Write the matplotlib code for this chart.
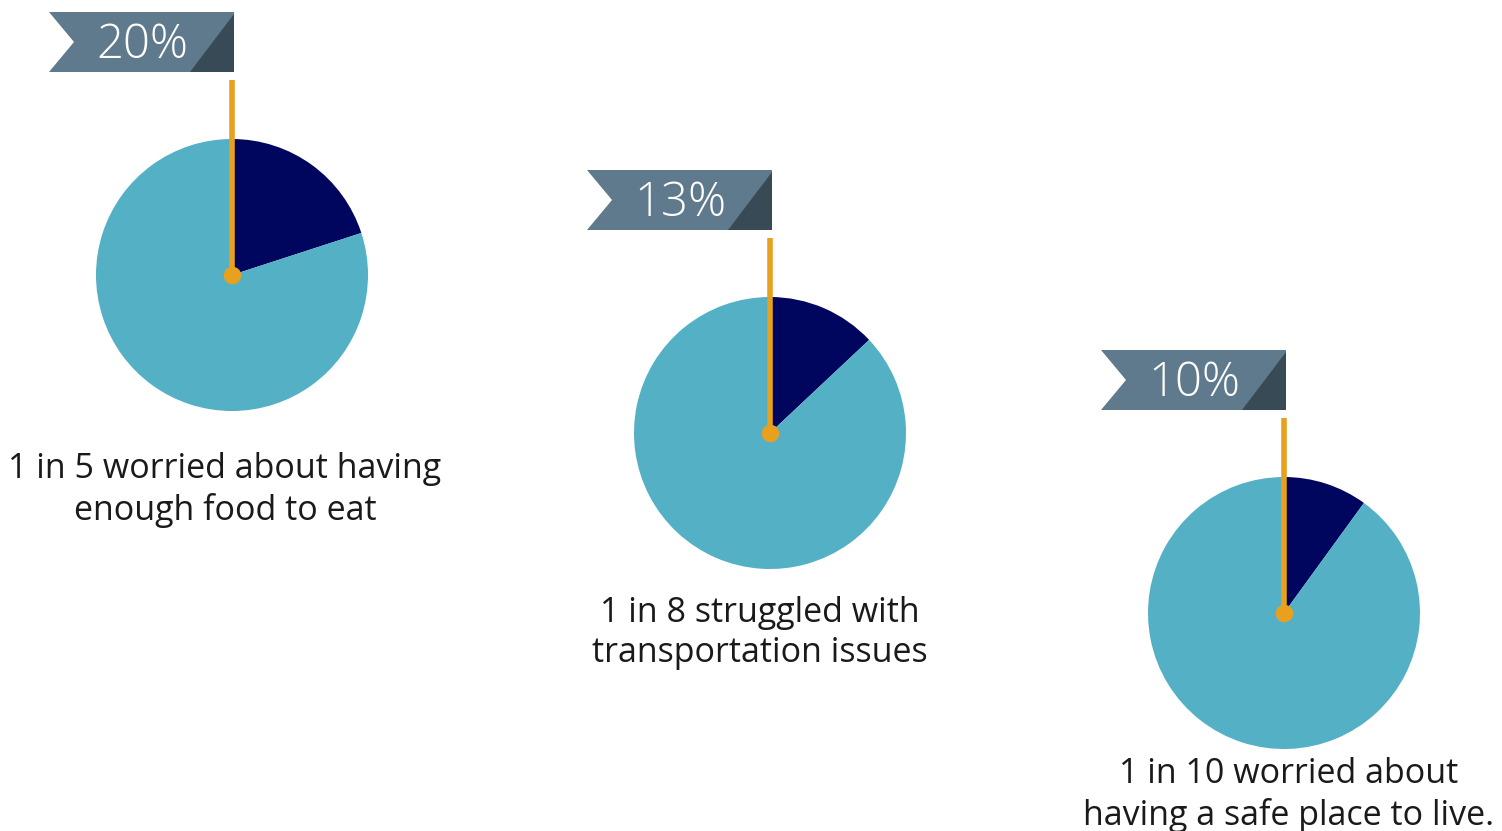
import matplotlib
matplotlib.use("Agg")
import matplotlib.pyplot as plt
from matplotlib.patches import Polygon

W, H = 1502, 831
percents = [20, 13, 10]
pct_labels = ["20%", "13%", "10%"]
captions = ["1 in 5 worried about having\nenough food to eat",
            "1 in 8 struggled with\ntransportation issues",
            "1 in 10 worried about\nhaving a safe place to live."]

# layout (pixel positions, y measured from top)
centers = [(232, 275), (770, 433), (1284, 613)]
radius = 136
banner_left = [49, 587, 1101]
banner_top = [12, 170, 350]
caption_pos = [(225, 490), (760, 633), (1289, 795)]

light = "#54b0c4"
dark = "#00065e"
orange = "#e8a11e"
ban = "#5f7a8c"
ban_dark = "#394a57"

fig = plt.figure(figsize=(W / 100, H / 100), dpi=100)
ax = fig.add_axes([0, 0, 1, 1])
ax.set_xlim(0, W)
ax.set_ylim(0, H)
ax.axis("off")

def Y(y):
    return H - y

for i, p in enumerate(percents):
    cx, cy = centers[i]
    ax.pie([p, 100 - p], colors=[dark, light], startangle=90, counterclock=False,
           center=(cx, Y(cy)), radius=radius, frame=True,
           wedgeprops=dict(linewidth=0))
    # banner
    bl, bt = banner_left[i], banner_top[i]
    bw, bh = 185, 60
    poly = [(bl, Y(bt)), (bl + bw, Y(bt)), (bl + bw, Y(bt + bh)), (bl, Y(bt + bh)),
            (bl + 25, Y(bt + bh / 2))]
    ax.add_patch(Polygon(poly, closed=True, facecolor=ban, edgecolor="none", zorder=5))
    tri = [(bl + bw - 44, Y(bt + bh)), (bl + bw, Y(bt + 2)), (bl + bw, Y(bt + bh))]
    ax.add_patch(Polygon(tri, closed=True, facecolor=ban_dark, edgecolor="none", zorder=6))
    ax.text(bl + 93, Y(bt + bh / 2 + 4), pct_labels[i], color="white", fontsize=34,
            family="Open Sans", fontweight="light", ha="center", va="center", zorder=7)
    # orange line
    ax.plot([cx, cx], [Y(bt + 68), Y(cy)], color=orange, linewidth=4, solid_capstyle="butt", zorder=8)
    ax.scatter([cx], [Y(cy)], s=160, color=orange, zorder=9, linewidths=0)
    # caption
    tx, ty = caption_pos[i]
    ax.text(tx, Y(ty), captions[i], fontsize=24.5, family="Open Sans", color="#1a1a1a",
            ha="center", va="center", linespacing=1.25)

ax.set_xlim(0, W)
ax.set_ylim(0, H)
ax.set_aspect("auto")

fig.savefig("out.png", dpi=100)
